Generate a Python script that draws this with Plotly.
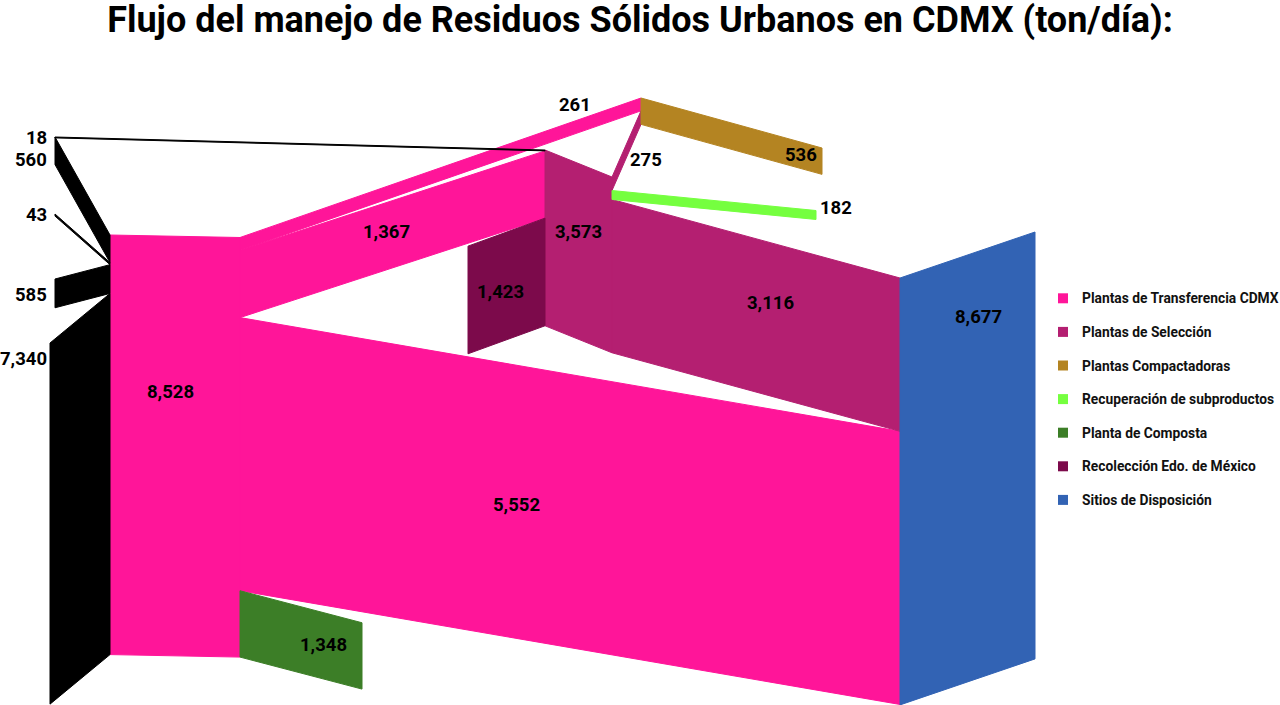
import plotly.graph_objects as go

# ---------------- data ----------------
TITLE = "Flujo del manejo de Residuos Sólidos Urbanos en CDMX (ton/día):"

node_names = [
    "Plantas de Transferencia CDMX",
    "Plantas de Selección",
    "Plantas Compactadoras",
    "Recuperación de subproductos",
    "Planta de Composta",
    "Recolección Edo. de México",
    "Sitios de Disposición",
]
node_values = [8528, 3573, 536, 182, 1348, 1423, 8677]
node_colors = ["#FF1599", "#B41F71", "#B48422", "#75FF3F", "#3C7E27", "#7C0A4B", "#3263B4"]

# collection inputs (black bands on the left)
input_values = [18, 560, 43, 585, 7340]
input_targets = [
    "Plantas de Selección",
    "Plantas de Transferencia CDMX",
    "Plantas de Transferencia CDMX",
    "Plantas de Transferencia CDMX",
    "Plantas de Transferencia CDMX",
]

# flows between facilities
link_sources = [
    "Plantas de Transferencia CDMX",
    "Plantas de Transferencia CDMX",
    "Plantas de Transferencia CDMX",
    "Plantas de Transferencia CDMX",
    "Plantas de Selección",
    "Plantas de Selección",
    "Plantas de Selección",
    "Recolección Edo. de México",
]
link_targets = [
    "Plantas Compactadoras",
    "Plantas de Selección",
    "Sitios de Disposición",
    "Planta de Composta",
    "Plantas Compactadoras",
    "Recuperación de subproductos",
    "Sitios de Disposición",
    "Plantas de Selección",
]
link_values = [261, 1367, 5552, 1348, 275, 182, 3116, 1423]

# ---------------- layout (pixel space of the drawing) ----------------
K = 0.0492  # px per ton
# node faces: left x, right x, top y at left (None = derived from attached flow), drop of top edge
node_geom = {
    "Plantas de Transferencia CDMX": (110, 240, 235, 2.5),
    "Plantas de Selección": (545, 612, 150, 27),
    "Plantas Compactadoras": (641, 822, 98, 50),
    "Recuperación de subproductos": (612, 816, None, 20),
    "Planta de Composta": (240, 362, None, 32),
    "Recolección Edo. de México": (468, 545, None, -28),
    "Sitios de Disposición": (900, 1035, 278, -46),
}
# order of each flow in the stack at its target
link_target_rank = [0, 0, 1, 0, 1, 0, 0, 1]
# left-hand origin of the collection inputs
input_origin = [(55, 137), (55, 137), (55, 214), (55, 279), (50, 343)]
input_label_y = [138, 160, 215, 295, 359]
node_label_pos = {
    "Plantas de Transferencia CDMX": (170, 392),
    "Plantas de Selección": (578, 232),
    "Plantas Compactadoras": (801, 155),
    "Recuperación de subproductos": (836, 208),
    "Planta de Composta": (323, 645),
    "Recolección Edo. de México": (500, 292),
    "Sitios de Disposición": (978, 317),
}
link_label_pos = [(575, 105), (386, 232), (516, 505), None, (646, 160), None, (770, 303), None]
# legend block
LEG_X, LEG_TEXT_X, LEG_Y0, LEG_STEP = 1063, 1081, 298.3, 33.6

color = dict(zip(node_names, node_colors))
value = dict(zip(node_names, node_values))

# displayed heights
height = {n: value[n] * K for n in node_names}
# the Edo. Mex block fills the remainder of the Selección face
sel = "Plantas de Selección"
edo = "Recolección Edo. de México"
other_in = sum(v for v, t in zip(input_values, input_targets) if t == sel) + sum(
    v for s, t, v in zip(link_sources, link_targets, link_values) if t == sel and s != edo)
height[edo] = (value[sel] - other_in) * K
thick = [height[edo] if s == edo else v * K for s, v in zip(link_sources, link_values)]

top0 = {n: g[2] for n, g in node_geom.items()}

# source side stacking
src_y = [None] * len(link_values)
for n in ["Plantas de Transferencia CDMX", "Plantas de Selección"]:
    y = top0[n] + node_geom[n][3]
    for i, s in enumerate(link_sources):
        if s == n:
            src_y[i] = y
            tgt = link_targets[i]
            if top0[tgt] is None:
                top0[tgt] = y
            y += thick[i]

# target side stacking
tgt_y = [None] * len(link_values)
inp_y = [None] * len(input_values)
for n in node_names:
    if top0[n] is None:
        continue
    y = top0[n]
    for j, t in enumerate(input_targets):
        if t == n:
            inp_y[j] = y
            y += input_values[j] * K
    idx = sorted([i for i, t in enumerate(link_targets) if t == n], key=lambda i: link_target_rank[i])
    for i in idx:
        tgt_y[i] = y
        s = link_sources[i]
        if top0[s] is None:
            top0[s] = y - node_geom[s][3]
            src_y[i] = y
        y += thick[i]

fig = go.Figure()


def poly(xs, ys, c, lw=1.0, name=None):
    fig.add_trace(go.Scatter(
        x=xs + [xs[0]], y=ys + [ys[0]], mode="lines", fill="toself",
        fillcolor=c, line=dict(color=c, width=lw), hoverinfo="skip", showlegend=False,
        name=name))


# flows
for i in range(len(link_values)):
    s, t = link_sources[i], link_targets[i]
    sx = node_geom[s][1]
    tx = node_geom[t][0]
    if sx == tx:
        continue
    poly([sx, tx, tx, sx], [src_y[i], tgt_y[i], tgt_y[i] + thick[i], src_y[i] + thick[i]], color[s],
         name=f"{s} → {t}")

# nodes
for n in node_names:
    x0, x1, _, dy = node_geom[n]
    y0 = top0[n]
    h = height[n]
    poly([x0, x1, x1, x0], [y0, y0 + dy, y0 + dy + h, y0 + h], color[n], name=n)

# collection inputs
for j, v in enumerate(input_values):
    lx, ly = input_origin[j]
    tx = node_geom[input_targets[j]][0]
    th = v * K
    poly([lx, tx, tx, lx], [ly, inp_y[j], inp_y[j] + th, ly + th], "#000000", lw=1,
         name=f"Recolección → {input_targets[j]}")

# legend (drawn in place so it sits flush with the right edge)
ann = []
leg_font = dict(family="Roboto", size=13.8, color="#111111", weight="bold")
for k, n in enumerate(node_names):
    ly = LEG_Y0 + k * LEG_STEP
    fig.add_trace(go.Scatter(
        x=[LEG_X], y=[ly], mode="markers", name=n, showlegend=False, hoverinfo="name",
        marker=dict(symbol="square", size=10, color=color[n], line=dict(width=0))))
    ann.append(dict(x=LEG_TEXT_X, y=ly, text=n, xanchor="left", yanchor="middle",
                    showarrow=False, font=leg_font, borderpad=0))

lab_font = dict(family="Roboto", size=18.5, color="#000000", weight="bold")
for j, v in enumerate(input_values):
    ann.append(dict(x=48, y=input_label_y[j], text=f"{v:,}", xanchor="right", yanchor="middle",
                    showarrow=False, font=lab_font, borderpad=0))
for n in node_names:
    px, py = node_label_pos[n]
    ann.append(dict(x=px, y=py, text=f"{value[n]:,}", xanchor="center", yanchor="middle",
                    showarrow=False, font=lab_font))
for i, p in enumerate(link_label_pos):
    if p is None:
        continue
    ann.append(dict(x=p[0], y=p[1], text=f"{link_values[i]:,}", xanchor="center", yanchor="middle",
                    showarrow=False, font=lab_font))

fig.update_layout(
    width=1280, height=705,
    margin=dict(l=0, r=0, t=0, b=0),
    paper_bgcolor="white", plot_bgcolor="white",
    title=dict(text=TITLE, x=0.5, xanchor="center", y=1 - 19 / 705, yanchor="middle",
               yref="container",
               font=dict(family="Roboto", size=36, color="#000000", weight="bold")),
    xaxis=dict(range=[0, 1280], visible=False, fixedrange=True),
    yaxis=dict(range=[705, 0], visible=False, fixedrange=True),
    showlegend=False,
    annotations=ann,
    font=dict(family="Roboto"),
)

fig.write_html("out.html")
